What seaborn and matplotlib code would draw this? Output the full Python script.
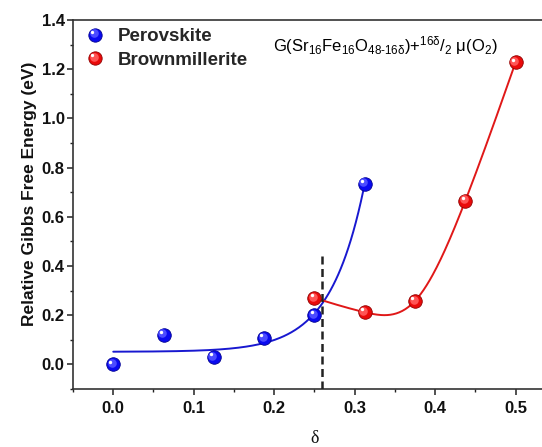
import numpy as np
import matplotlib
matplotlib.use('Agg')
import matplotlib.pyplot as plt
import matplotlib.transforms as mtransforms
from matplotlib.lines import Line2D
from matplotlib.legend_handler import HandlerBase
from matplotlib.ticker import MultipleLocator
import seaborn as sns

# oxygen vacancy content delta (steps of 1/16) and relative energies (eV)
perov_delta = [0.0, 0.0625, 0.125, 0.1875, 0.25, 0.3125]
perov_energy = [0.0, 0.12, 0.03, 0.107, 0.20, 0.735]
brown_delta = [0.25, 0.3125, 0.375, 0.4375, 0.5]
brown_energy = [0.27, 0.212, 0.258, 0.665, 1.228]

series_names = ['Perovskite', 'Brownmillerite']
phase_boundary = 0.26
boundary_top = 0.44
formula = r'G(Sr$_{16}$Fe$_{16}$O$_{48\text{-}16\delta}$)+$^{16\delta}$/$_{2}$ $\mu$(O$_{2}$)'

BLUE = dict(base='#0a0af0', mid='#4c4cff', edge='#000090', line='#1818d0')
RED = dict(base='#ea0a0a', mid='#ff5454', edge='#900000', line='#e01818')


def exp_fit(x, y):
    # y = a + b*exp(x/t): scan t, least squares for a and b
    x = np.asarray(x, float)
    y = np.asarray(y, float)
    best = None
    for t in np.linspace(0.01, 0.2, 600):
        A = np.column_stack([np.ones_like(x), np.exp(x / t)])
        coef = np.linalg.lstsq(A, y, rcond=None)[0]
        err = np.sum((A @ coef - y) ** 2)
        if best is None or err < best[0]:
            best = (err, coef, t)
    _, (a, b), t = best
    return lambda xx: a + b * np.exp(np.asarray(xx) / t)


def natural_spline(x, y):
    x = np.asarray(x, float)
    y = np.asarray(y, float)
    n = len(x)
    h = np.diff(x)
    A = np.zeros((n, n))
    r = np.zeros(n)
    A[0, 0] = A[-1, -1] = 1
    for i in range(1, n - 1):
        A[i, i - 1] = h[i - 1]
        A[i, i] = 2 * (h[i - 1] + h[i])
        A[i, i + 1] = h[i]
        r[i] = 6 * ((y[i + 1] - y[i]) / h[i] - (y[i] - y[i - 1]) / h[i - 1])
    m = np.linalg.solve(A, r)

    def f(xx):
        xx = np.asarray(xx, float)
        i = np.clip(np.searchsorted(x, xx) - 1, 0, n - 2)
        t0 = x[i + 1] - xx
        t1 = xx - x[i]
        return ((m[i] * t0 ** 3 + m[i + 1] * t1 ** 3) / (6 * h[i])
                + (y[i] / h[i] - m[i] * h[i] / 6) * t0
                + (y[i + 1] / h[i] - m[i + 1] * h[i] / 6) * t1)
    return f


def sphere(ax, fig, x, y, c):
    # glossy ball look: base disc + lighter offset disc + white glint
    sns.scatterplot(x=x, y=y, ax=ax, s=95, color=c['base'], edgecolor=c['edge'],
                    linewidth=0.6, zorder=5, legend=False)
    shift = mtransforms.offset_copy(ax.transData, fig=fig, x=-1.0, y=1.0, units='points')
    ax.scatter(x, y, s=38, color=c['mid'], lw=0, transform=shift, zorder=6)
    glint = mtransforms.offset_copy(ax.transData, fig=fig, x=-2.0, y=2.0, units='points')
    ax.scatter(x, y, s=6, color='white', lw=0, transform=glint, zorder=7)


class BallHandler(HandlerBase):
    def __init__(self, c):
        super().__init__()
        self.c = c

    def create_artists(self, legend, orig_handle, xdescent, ydescent, width, height,
                       fontsize, trans):
        cx = width / 2 - xdescent
        cy = height / 2 - ydescent
        c = self.c
        layers = [(0, 0, 9.6, c['base'], c['edge']), (-1, 1, 6.2, c['mid'], 'none'),
                  (-2, 2, 2.4, 'white', 'none')]
        arts = []
        for dx, dy, ms, fc, ec in layers:
            ln = Line2D([cx + dx], [cy + dy], marker='o', ls='', ms=ms, mfc=fc, mec=ec, mew=0.6)
            ln.set_transform(trans)
            arts.append(ln)
        return arts


sns.set_theme(style='ticks')
plt.rcParams['font.family'] = ['Liberation Sans', 'DejaVu Sans']
plt.rcParams['mathtext.fontset'] = 'custom'
plt.rcParams['mathtext.rm'] = 'Liberation Sans'
plt.rcParams['mathtext.it'] = 'Liberation Sans'
plt.rcParams['mathtext.bf'] = 'Liberation Sans:bold'

fig = plt.figure(figsize=(5.42, 4.47), dpi=100)
ax = fig.add_axes([0.1347, 0.1298, 0.8908, 0.8255])

# fitted / smoothed curves
perov_curve = exp_fit(perov_delta, perov_energy)
xp = np.linspace(perov_delta[0], perov_delta[-1], 200)
sns.lineplot(x=xp, y=perov_curve(xp), ax=ax, color=BLUE['line'], lw=1.4, zorder=3)

brown_curve = natural_spline(brown_delta, brown_energy)
xb = np.linspace(brown_delta[0], brown_delta[-1], 200)
sns.lineplot(x=xb, y=brown_curve(xb), ax=ax, color=RED['line'], lw=1.4, zorder=3)

ax.vlines(phase_boundary, -0.1, boundary_top, colors='#222222', lw=1.8,
          linestyles=(0, (3.2, 1.8)), zorder=4)

sphere(ax, fig, perov_delta, perov_energy, BLUE)
sphere(ax, fig, brown_delta, brown_energy, RED)

ax.set_xlim(-0.05, 0.55)
ax.set_ylim(-0.1, 1.4)
ax.xaxis.set_major_locator(MultipleLocator(0.1))
ax.xaxis.set_minor_locator(MultipleLocator(0.05))
ax.yaxis.set_major_locator(MultipleLocator(0.2))
ax.yaxis.set_minor_locator(MultipleLocator(0.1))
ax.tick_params(which='major', direction='out', length=4, width=1.1, color='#222222',
               labelsize=12, labelcolor='#111111')
ax.tick_params(axis='x', which='major', pad=4.5)
ax.tick_params(axis='y', which='major', pad=2)
ax.tick_params(which='minor', direction='out', length=2.5, width=1.0, color='#222222')
for lbl in ax.get_xticklabels() + ax.get_yticklabels():
    lbl.set_fontweight('bold')
for sp in ax.spines.values():
    sp.set_color('#333333')
    sp.set_linewidth(1.2)

ax.set_ylabel('Relative Gibbs Free Energy (eV)', fontsize=12.5, fontweight='bold',
              color='#111111')
ax.yaxis.set_label_coords(-0.075, 0.53)
ax.set_xlabel('\u03b4', fontsize=13, family=['Liberation Serif', 'DejaVu Serif'],
              color='#111111')
ax.xaxis.set_label_coords(0.5, -0.11)

ax.text(0.414, 0.932, formula, transform=ax.transAxes, fontsize=12, va='center',
        ha='left', color='#000000')

handles = [Line2D([], []), Line2D([], [])]
ax.legend(handles, series_names,
          handler_map={handles[0]: BallHandler(BLUE), handles[1]: BallHandler(RED)},
          loc='upper left', bbox_to_anchor=(0, 1.012), frameon=False,
          prop={'weight': 'bold', 'size': 13.5},
          handlelength=1.0, handletextpad=0.73, borderaxespad=0.27, borderpad=0.4,
          labelspacing=0.33)

fig.savefig('out.png', dpi=100)
